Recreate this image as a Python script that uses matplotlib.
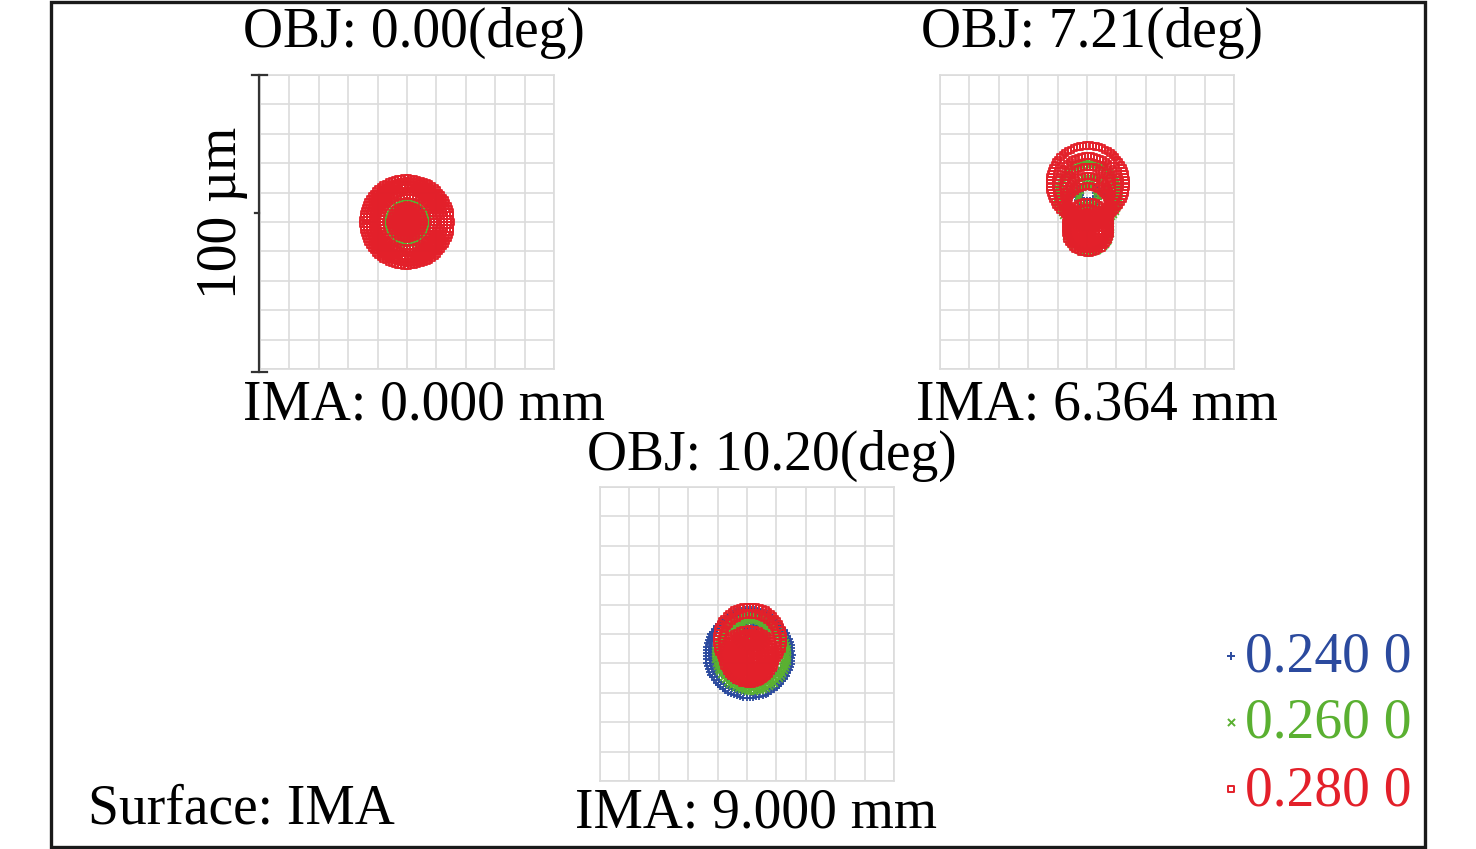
import numpy as np
import matplotlib.pyplot as plt
from matplotlib.patches import Rectangle

plt.rcParams['font.family'] = ['Liberation Serif', 'DejaVu Serif']

W, H = 1476, 849

# wavelengths (um) and their colours / markers
wavelengths = ['0.240 0', '0.260 0', '0.280 0']
colors = ['#2b4a9e', '#5ab031', '#e3202a']
markers = ['+', 'x', 's']

field_titles = ['OBJ: 0.00(deg)', 'OBJ: 7.21(deg)', 'OBJ: 10.20(deg)']
image_heights = ['IMA: 0.000 mm', 'IMA: 6.364 mm', 'IMA: 9.000 mm']

# spot rings: (dx, dy, radius) in um, relative to box centre
rings_f1 = [
    [(0, 0, 1.5), (0, 0, 3.0), (0, 0, 4.5), (0, 0, 6.0)],
    [(0, 0, 1.5), (0, 0, 3.0), (0, 0, 4.5), (0, 0, 6.0), (0, 0, 7.2)],
    [(0, 0, 0.4), (0, 0, 1.3), (0, 0, 2.2), (0, 0, 3.1), (0, 0, 4.0), (0, 0, 4.8),
     (0, 0, 5.6), (0, 0, 9.1), (0, 0, 10.3), (0, 0, 11.5), (0, 0, 12.7), (0, 0, 13.8),
     (0, 0, 14.8)],
]
rings_f2 = [
    [(0.3, 9.8, 2.5), (0.3, 9.0, 4.0), (0.3, 5.0, 7.0), (0.3, -3.0, 6.5)],
    [(0.3, 9.0, 3.4), (0.3, 11.0, 9.4), (0.3, 9.0, 10.6), (0.3, 7.0, 8.0), (0.3, -2.5, 7.6)],
    [(0.3, 13.1, 12.9), (0.3, 12.0, 10.4), (0.3, 10.6, 8.2), (0.3, 8.0, 7.6),
     (0.3, 5.0, 7.2), (0.3, -0.5, 7.4), (0.3, -3.0, 7.4),
     (0.3, -3.0, 6.2), (0.3, -3.0, 5.0), (0.3, -3.0, 3.8), (0.3, -3.0, 2.6),
     (0.3, -3.0, 1.4), (0.3, -3.0, 0.4)],
]
rings_f3 = [
    [(0.7, -7.0, 14.8), (0.7, -6.5, 13.6), (0.7, -4.5, 13.0), (1.4, 1.8, 2.5),
     (1.4, 1.5, 1.3)],
    [(1.4, -7.0, 12.3), (1.4, -6.5, 11.2), (1.4, 1.5, 4.3), (1.4, 1.0, 5.4)],
    [(1.0, -1.9, 11.2), (1.0, -2.9, 9.6), (0.7, -7.5, 9.0), (0.7, -7.5, 7.8),
     (0.7, -7.5, 6.6), (0.7, -7.5, 5.4), (0.7, -7.5, 4.2), (0.7, -7.5, 3.0),
     (0.7, -7.5, 1.8), (0.7, -7.5, 0.6), (0.7, -9.5, 7.4), (0.7, -11.0, 5.2)],
]
spots = [rings_f1, rings_f2, rings_f3]

# box positions in pixels: left, top (each box is 100 um square)
boxes = [(260, 75), (940, 75), (600, 487)]
BOX = 294

fig = plt.figure(figsize=(W / 100, H / 100), dpi=100)


def px_text(x, y, s, **kw):
    fig.text(x / W, 1 - y / H, s, fontsize=40, va='baseline', **kw)


for k, (left, top) in enumerate(boxes):
    ax = fig.add_axes([left / W, 1 - (top + BOX) / H, BOX / W, BOX / H])
    ax.set_xlim(-50, 50)
    ax.set_ylim(-50, 50)
    ax.set_xticks(np.arange(-50, 51, 10))
    ax.set_yticks(np.arange(-50, 51, 10))
    ax.grid(True, color='#dcdcdc', linewidth=1.2)
    ax.tick_params(length=0, labelbottom=False, labelleft=False)
    for sp in ax.spines.values():
        sp.set_color('#dcdcdc')
        sp.set_linewidth(1.2)
    ax.set_axisbelow(True)
    for c, (col, mk) in enumerate(zip(colors, markers)):
        xs, ys = [], []
        for dx, dy, r in spots[k][c]:
            n = max(6, int(np.ceil(2 * np.pi * r / 1.1)))
            t = np.linspace(0, 2 * np.pi, n, endpoint=False)
            xs.append(dx + r * np.cos(t))
            ys.append(dy + r * np.sin(t))
        xs = np.concatenate(xs)
        ys = np.concatenate(ys)
        if mk == 's':
            ax.scatter(xs, ys, s=20, marker='s', facecolors='none',
                       edgecolors=col, linewidths=1.3, zorder=3 + c)
        else:
            ax.scatter(xs, ys, s=24, marker=mk, color=col, linewidths=1.3,
                       zorder=3 + c)

# titles and image heights
px_text(243, 47, field_titles[0])
px_text(921, 47, field_titles[1])
px_text(587, 470, field_titles[2])
px_text(243, 420, image_heights[0])
px_text(916, 420, image_heights[1])
px_text(575, 828, image_heights[2])
px_text(88, 823, 'Surface: IMA')

# scale bar
ov = fig.add_axes([0, 0, 1, 1])
ov.set_xlim(0, W)
ov.set_ylim(H, 0)
ov.axis('off')
ov.plot([259, 259], [75, 372], color='#333333', lw=1.6)
ov.plot([252, 267], [75, 75], color='#333333', lw=1.6)
ov.plot([252, 267], [372, 372], color='#333333', lw=1.6)
ov.plot([255, 259], [213, 213], color='#333333', lw=1.6)
ov.text(222, 213, '100 \u00b5m', fontsize=40, rotation=90, ha='center', va='center')

# legend
leg_y = [672, 738, 805]
for lab, col, mk, y in zip(wavelengths, colors, markers, leg_y):
    if mk == 's':
        ov.scatter([1231], [y - 16], s=22, marker='s', facecolors='none',
                   edgecolors=col, linewidths=1.4)
    else:
        ov.scatter([1231], [y - 16], s=26, marker=mk, color=col, linewidths=1.4)
    ov.text(1245, y, lab, fontsize=40, color=col, va='baseline')

# frame round the whole picture
ov.add_patch(Rectangle((51, 1.5), 1374, 845, fill=False, edgecolor='#1a1a1a', lw=2.4))

fig.savefig('out.png', dpi=100)
